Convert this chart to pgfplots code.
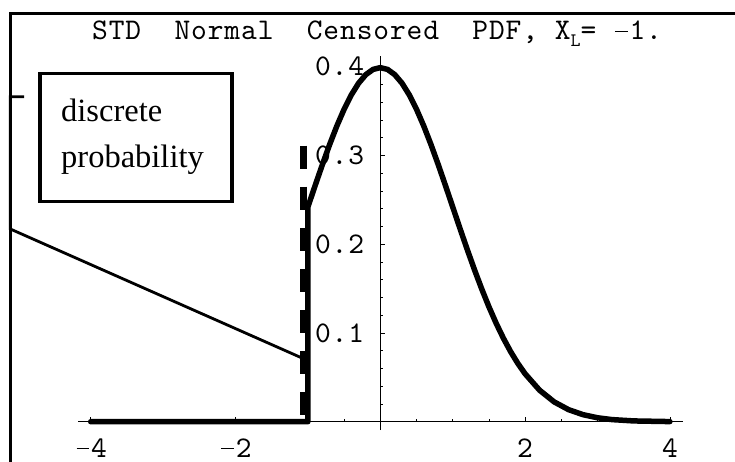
\documentclass[border=0pt]{standalone}
\usepackage{fontspec}
\setmainfont{Liberation Serif}
\newfontfamily\lmcour{lmmono10-regular}[Extension=.otf, LetterSpace=3]
\usepackage{pgfplots}
\pgfplotsset{compat=1.18}
\newcommand{\cour}{\lmcour\fontsize{30}{34}\selectfont}
\newcommand{\mm}{\makebox[0.555em][c]{\rule[0.26em]{0.42em}{0.045em}}}
\begin{document}
\begin{tikzpicture}[x=1pt,y=1pt]
\useasboundingbox (0,0) rectangle (735,461);
% outer frame (top and left)
\draw[line width=3pt] (736,447) -- (10.3,447) -- (10.3,-1);
\begin{axis}[
  at={(380.3pt,39.3pt)}, anchor=origin,
  x=72.4pt, y=887.5pt,
  xmin=-4.17, xmax=4.18, ymin=-0.0094, ymax=0.4118,
  axis lines=middle,
  axis line style={-, line width=0.8pt, black},
  clip=false,
  xtick={-4,-2,2,4},
  xticklabels={\mm4,\mm2,2,4},
  minor xtick={-3.5,-3,-2.5,-1.5,-1,-0.5,0.5,1,1.5,2.5,3,3.5},
  ytick={0.1,0.2,0.3,0.4},
  yticklabels={0.1,0.2,0.3,0.4},
  minor ytick={0.02,0.04,0.06,0.08,0.12,0.14,0.16,0.18,0.22,0.24,0.26,0.28,0.32,0.34,0.36,0.38},
  tick align=inside,
  major tick length=4.5pt,
  minor tick length=2.7pt,
  every tick/.style={black, line width=0.8pt},
  tick label style={font=\cour, inner sep=0pt},
  xticklabel style={anchor=north, yshift=-16.5pt},
  yticklabel style={anchor=east, xshift=-16pt},
]
% discrete probability spike (dashed)
\addplot[black, line width=7pt, dash pattern=on 23pt off 18pt] coordinates {(-1.06,0.311) (-1.06,0)};
% censored pdf
\addplot[black, line width=5.5pt, line cap=round, line join=round] coordinates {
(-4,0) (-1,0) (-1,0.24197)
(-0.9,0.26609) (-0.8,0.28969) (-0.7,0.31225) (-0.6,0.33322) (-0.5,0.35207)
(-0.4,0.36827) (-0.3,0.38139) (-0.2,0.39104) (-0.1,0.39695) (0,0.39894)
(0.1,0.39695) (0.2,0.39104) (0.3,0.38139) (0.4,0.36827) (0.5,0.35207)
(0.6,0.33322) (0.7,0.31225) (0.8,0.28969) (0.9,0.26609) (1.0,0.24197)
(1.1,0.21785) (1.2,0.19419) (1.3,0.17137) (1.4,0.14973) (1.5,0.12952)
(1.6,0.11092) (1.7,0.09405) (1.8,0.07895) (1.9,0.06562) (2.0,0.05399)
(2.2,0.03547) (2.4,0.02239) (2.6,0.01358) (2.8,0.00792) (3.0,0.00443)
(3.2,0.00238) (3.5,0.00087) (4.0,0.00013)
};
\end{axis}
% title
\node[anchor=base west, inner sep=0pt, font=\cour] at (92,421)
  {STD~~Normal~~Censored~~PDF,~X\raisebox{-0.22em}{\fontsize{19}{19}\selectfont L}=~\mm1.};
% callout box
\draw[line width=3.2pt] (40,259.3) rectangle (232,387.7);
\node[anchor=base west, inner sep=0pt, font=\fontsize{32.5}{38}\selectfont] at (61,339.3) {discrete};
\node[anchor=base west, inner sep=0pt, font=\fontsize{32.5}{38}\selectfont] at (61,293.7) {probability};
% callout bracket and leader
\draw[line width=2.8pt, line join=miter] (24,364.3) -- (10.3,364.3) -- (10.3,232) -- (302,103);
\end{tikzpicture}
\end{document}
